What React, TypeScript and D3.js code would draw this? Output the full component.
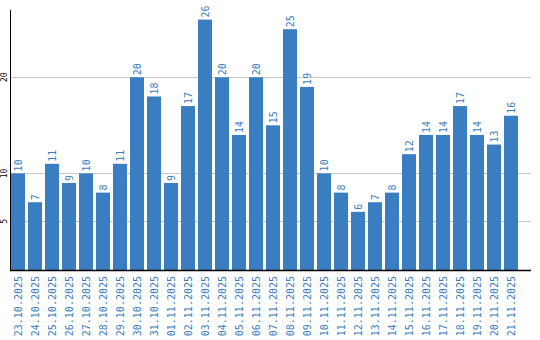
import React from "react";
import * as d3 from "d3";

const dates = [
  "23.10.2025", "24.10.2025", "25.10.2025", "26.10.2025", "27.10.2025",
  "28.10.2025", "29.10.2025", "30.10.2025", "31.10.2025", "01.11.2025",
  "02.11.2025", "03.11.2025", "04.11.2025", "05.11.2025", "06.11.2025",
  "07.11.2025", "08.11.2025", "09.11.2025", "10.11.2025", "11.11.2025",
  "12.11.2025", "13.11.2025", "14.11.2025", "15.11.2025", "16.11.2025",
  "17.11.2025", "18.11.2025", "19.11.2025", "20.11.2025", "21.11.2025",
];
const values = [
  10, 7, 11, 9, 10, 8, 11, 20, 18, 9, 17, 26, 20, 14, 20,
  15, 25, 19, 10, 8, 6, 7, 8, 12, 14, 14, 17, 14, 13, 16,
];
const yTicks = [5, 10, 20];

const W = 540;
const H = 340;
const BLUE = "#3b7dc1";
const FONT = "'DejaVu Sans Mono', monospace";

export default function App() {
  const x = d3
    .scaleBand<string>()
    .domain(dates)
    .range([11, 518])
    .paddingInner(3 / 17)
    .paddingOuter(0);
  const y = d3.scaleLinear().domain([0, 27]).range([269.5, 10]);
  const left = 11;
  const right = 531;
  const base = 270;

  return (
    <svg
      width={W}
      height={H}
      style={{ position: "absolute", left: 0, top: 0, background: "#fff" }}
    >
      {yTicks.map((t) => (
        <g key={t}>
          <line
            x1={left}
            x2={right}
            y1={Math.round(y(t)) + 0.5}
            y2={Math.round(y(t)) + 0.5}
            stroke="#c8c8c8"
            strokeWidth={1}
          />
          <text
            transform={`translate(7,${y(t)}) rotate(-90)`}
            textAnchor="middle"
            fontFamily={FONT}
            fontSize={8}
            fill="#000"
          >
            {t}
          </text>
        </g>
      ))}
      {values.map((v, i) => {
        const d = dates[i];
        const bx = x(d)!;
        const bw = x.bandwidth();
        const cx = bx + bw / 2;
        return (
          <g key={d}>
            <rect x={bx} y={y(v)} width={bw} height={base - y(v)} fill={BLUE} />
            <text
              transform={`translate(${cx + 3.5},${y(v) - 2}) rotate(-90)`}
              textAnchor="start"
              fontFamily={FONT}
              fontSize={10}
              fill={BLUE}
            >
              {v}
            </text>
            <text
              transform={`translate(${cx + 3.5},276) rotate(-90)`}
              textAnchor="end"
              fontFamily={FONT}
              fontSize={10}
              fill={BLUE}
            >
              {d}
            </text>
          </g>
        );
      })}
      <line x1={10.5} x2={10.5} y1={10} y2={base + 1} stroke="#000" strokeWidth={1} />
      <line x1={10} x2={right} y1={base + 0.5} y2={base + 0.5} stroke="#000" strokeWidth={1.5} />
    </svg>
  );
}
